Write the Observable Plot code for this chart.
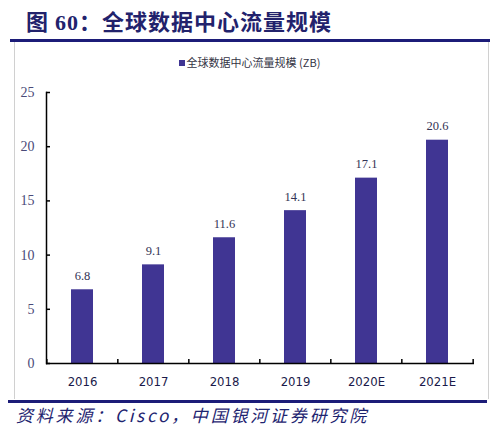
<!DOCTYPE html>
<html><head><meta charset="utf-8">
<script src="https://cdn.jsdelivr.net/npm/d3@7"></script>
<script src="https://cdn.jsdelivr.net/npm/@observablehq/plot@0.6"></script>
<style>
body{margin:0;background:#fff;}
#wrap{position:relative;width:499px;height:431px;overflow:hidden;background:#fff;}
#title{position:absolute;left:26px;top:4px;font-family:"Noto Sans CJK SC",sans-serif;font-weight:700;font-size:22px;color:#22226c;letter-spacing:1px;white-space:nowrap;}
#title .num{font-family:"Liberation Serif",serif;}
#topline{position:absolute;left:10px;top:39px;width:480px;height:3px;background:#1c1c78;}
#box{position:absolute;left:14px;top:42px;width:473px;height:357px;border-left:1px solid #d0d0d0;border-right:1px solid #d0d0d0;}
#botline{position:absolute;left:8px;top:400px;width:479px;height:3px;background:#1c1c78;}
#legend{position:absolute;left:0;width:499px;top:54px;text-align:center;font-family:"Noto Sans CJK SC",sans-serif;font-size:11px;color:#333344;}
#legend .sw{display:inline-block;width:6px;height:6px;background:#403593;margin-right:2px;vertical-align:1px;}
#caption{position:absolute;left:16px;top:402px;font-family:"Noto Sans CJK SC",sans-serif;font-style:italic;font-size:17px;color:#1e2470;letter-spacing:2.8px;white-space:nowrap;}
#chart{position:absolute;left:0;top:75px;}
</style></head>
<body>
<div id="wrap">
  <div id="title">图 <span class="num">60</span>：全球数据中心流量规模</div>
  <div id="topline"></div>
  <div id="box"></div>
  <div id="legend"><span class="sw"></span>全球数据中心流量规模 (ZB)</div>
  <div id="chart"></div>
  <div id="botline"></div>
  <div id="caption">资料来源：Cisco，中国银河证券研究院</div>
</div>
<script>
const years = ["2016","2017","2018","2019","2020E","2021E"];
const traffic = [6.8, 9.1, 11.6, 14.1, 17.1, 20.6];
const yTicks = [0, 5, 10, 15, 20, 25];

const data = years.map((y, i) => ({year: y, value: traffic[i]}));
const W = 499, H = 320, ML = 46, MR = 25, MT = 17, MB = 32;
const step = (W - ML - MR) / years.length;

const chart = Plot.plot({
  width: W, height: H,
  marginLeft: ML, marginRight: MR, marginTop: MT, marginBottom: MB,
  style: {background: "transparent", overflow: "visible"},
  x: {domain: years, paddingInner: 0.69, paddingOuter: 0.345, axis: null},
  y: {domain: [0, 25], axis: null},
  marks: [
    Plot.barY(data, {x: "year", y: "value", fill: "#403593"}),
    Plot.text(data, {x: "year", y: "value", text: d => d.value.toFixed(1), dy: -14,
      fontFamily: "Liberation Serif, serif", fontSize: 12.5, fill: "#333355", letterSpacing: 1.5}),
    Plot.axisY(yTicks, {tickSize: 4, dx: 4, tickFormat: () => "", stroke: "#000", strokeWidth: 1.5, label: null}),
    Plot.axisY(yTicks, {tickSize: 0, tickPadding: 12, label: null,
      fontFamily: "Liberation Serif, serif", fontSize: 14, fill: "#4a4a78"}),
    Plot.axisX(years, {tickSize: 4, dy: -4, dx: -step / 2, tickFormat: () => "", stroke: "#000", strokeWidth: 1.5, label: null}),
    Plot.axisX(years.slice(-1), {tickSize: 4, dy: -4, dx: step / 2, tickFormat: () => "", stroke: "#000", strokeWidth: 1.5, label: null}),
    Plot.axisX(years, {tickSize: 0, tickPadding: 13, label: null,
      fontFamily: "Liberation Sans Narrow, DejaVu Sans Condensed, Arial, sans-serif", fontSize: 13, fill: "#1a1a4a"}),
    Plot.frame({anchor: "left", stroke: "#000", strokeWidth: 1.5}),
    Plot.ruleY([0], {stroke: "#000", strokeWidth: 1.5})
  ]
});
document.getElementById("chart").appendChild(chart);
</script>
</body></html>
